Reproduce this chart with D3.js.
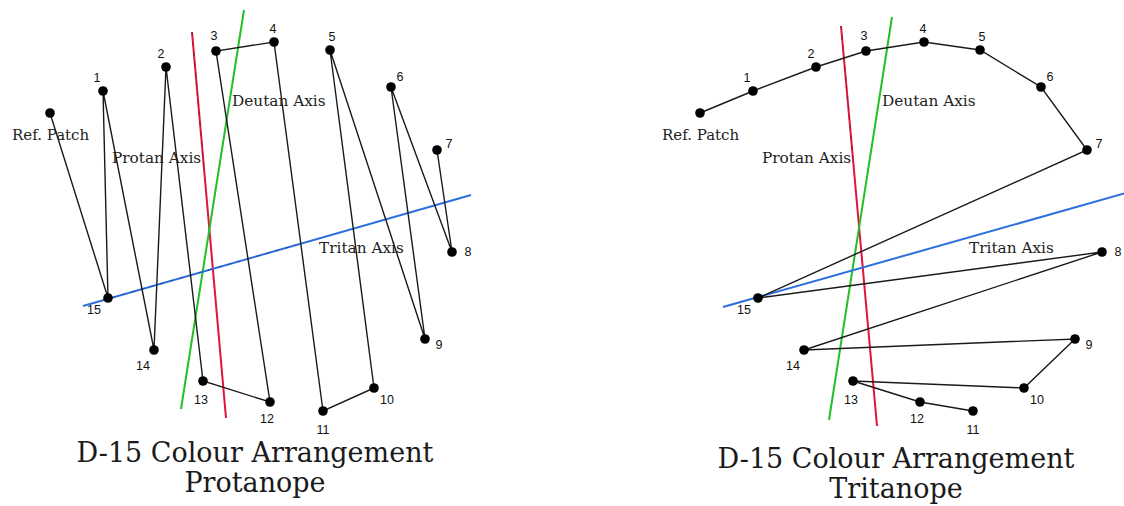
<!DOCTYPE html>
<html>
<head>
<meta charset="utf-8">
<script src="https://cdn.jsdelivr.net/npm/d3@7"></script>
<style>
  html, body { margin: 0; padding: 0; background: #fff; }
  svg { display: block; }
</style>
</head>
<body>
<svg id="chart" width="1124" height="506"></svg>
<script>
// ---------------- DATA ----------------
// Cap identifiers (reference patch + 15 caps)
const capIds = ["Ref", 1, 2, 3, 4, 5, 6, 7, 8, 9, 10, 11, 12, 13, 14, 15];
// Cap positions in the D-15 diagram (diagram units)
const capX = [50, 103, 166, 216, 274, 330, 391, 437, 452, 425, 374, 323, 270, 203, 154, 108];
const capY = [113, 91, 67, 51, 42, 50, 87, 150, 252, 339, 388, 411, 402, 381, 350, 298];

// Arrangement orders chosen by each observer
const protanopeOrder = ["Ref", 15, 1, 14, 2, 13, 12, 3, 4, 11, 10, 5, 9, 6, 8, 7];
const tritanopeOrder = ["Ref", 1, 2, 3, 4, 5, 6, 7, 15, 8, 14, 9, 10, 13, 12, 11];

// Confusion axes (endpoints in diagram units) per panel
const axisNames = ["Protan Axis", "Deutan Axis", "Tritan Axis"];
const protanopeAxes = [[[192, 32], [226, 418]], [[244, 10], [181, 409]], [[83, 306], [471, 195]]];
const tritanopeAxes = [[[191, 26], [227, 426]], [[242, 17], [179, 420]], [[73, 307], [476, 193]]];

const panelTitles = [["D-15 Colour Arrangement", "Protanope"], ["D-15 Colour Arrangement", "Tritanope"]];

// ---------------- LAYOUT / STYLE ----------------
const axisColors = ["#e0143c", "#22c025", "#2d6fdc"];
const axisLabelPos = [[112, 163], [232, 106], [319, 253]];
const refLabelPos = [12, 140];
const numLabelOffsets = {
  1: [-6, -14], 2: [-5, -14], 3: [-2, -16], 4: [-1, -14], 5: [2, -14], 6: [9, -11], 7: [12, -7],
  8: [16, -1], 9: [14, 5], 10: [13, 11], 11: [0, 18], 12: [-3, 16], 13: [-2, 18], 14: [-11, 15], 15: [-14, 11]
};

const svg = d3.select("#chart");

const panels = [
  { order: protanopeOrder, axes: protanopeAxes, title: panelTitles[0], xOff: 0, titleY: [462, 492], titleX: 255, dashTritan: true },
  { order: tritanopeOrder, axes: tritanopeAxes, title: panelTitles[1], xOff: 650, titleY: [468, 498], titleX: 246, dashTritan: false }
];

const caps = capIds.map((id, i) => ({ id, x: capX[i], y: capY[i] }));
const capById = new Map(caps.map(c => [c.id, c]));

function partial(seg, t0, t1) {
  const [a, b] = seg;
  return [[a[0] + (b[0] - a[0]) * t0, a[1] + (b[1] - a[1]) * t0],
          [a[0] + (b[0] - a[0]) * t1, a[1] + (b[1] - a[1]) * t1]];
}

panels.forEach(p => {
  const x = d3.scaleLinear().domain([0, 500]).range([p.xOff, p.xOff + 500]);
  const y = d3.scaleLinear().domain([0, 506]).range([0, 506]);
  const g = svg.append("g");

  // axes lines
  p.axes.forEach((seg, i) => {
    g.append("line")
      .attr("x1", x(seg[0][0])).attr("y1", y(seg[0][1]))
      .attr("x2", x(seg[1][0])).attr("y2", y(seg[1][1]))
      .attr("stroke", axisColors[i]).attr("stroke-width", 2);
  });

  // faint dark dashed overlays
  const overlays = [[partial(p.axes[0], 0, 0.35), "#5a1a28"]];
  if (p.dashTritan) overlays.push([partial(p.axes[2], 0.05, 0.55), "#1a3a70"]);
  overlays.forEach(([s, c]) => {
    g.append("line")
      .attr("x1", x(s[0][0])).attr("y1", y(s[0][1]))
      .attr("x2", x(s[1][0])).attr("y2", y(s[1][1]))
      .attr("stroke", c).attr("stroke-width", 1).attr("stroke-dasharray", "4,6").attr("opacity", 0.55);
  });

  // connecting path
  const line = d3.line().x(d => x(d.x)).y(d => y(d.y));
  g.append("path")
    .datum(p.order.map(id => capById.get(id)))
    .attr("d", line)
    .attr("fill", "none")
    .attr("stroke", "#1a1a1a")
    .attr("stroke-width", 1.4);

  // dots
  g.selectAll("circle.cap").data(caps).join("circle")
    .attr("class", "cap")
    .attr("cx", d => x(d.x)).attr("cy", d => y(d.y))
    .attr("r", 4.8).attr("fill", "#000");

  // number labels
  g.selectAll("text.num").data(caps.filter(c => c.id !== "Ref")).join("text")
    .attr("class", "num")
    .attr("x", d => x(d.x + numLabelOffsets[d.id][0]))
    .attr("y", d => y(d.y + numLabelOffsets[d.id][1]) + 4.5)
    .attr("text-anchor", "middle")
    .attr("font-family", "'Liberation Sans', Arial, sans-serif")
    .attr("font-size", 12.5)
    .attr("fill", "#111")
    .text(d => d.id);

  // Ref patch label
  g.append("text")
    .attr("x", x(refLabelPos[0])).attr("y", y(refLabelPos[1]))
    .attr("font-family", "'DejaVu Serif', serif")
    .attr("font-size", 15)
    .attr("fill", "#222")
    .text("Ref. Patch");

  // axis labels
  axisNames.forEach((name, i) => {
    g.append("text")
      .attr("x", x(axisLabelPos[i][0])).attr("y", y(axisLabelPos[i][1]))
      .attr("font-family", "'DejaVu Serif', serif")
      .attr("font-size", 15.3)
      .attr("fill", "#222")
      .text(name);
  });

  // titles
  p.title.forEach((tline, i) => {
    g.append("text")
      .attr("x", x(p.titleX)).attr("y", y(p.titleY[i]))
      .attr("text-anchor", "middle")
      .attr("font-family", "'DejaVu Serif', serif")
      .attr("font-size", 27)
      .attr("fill", "#1a1a1a")
      .text(tline);
  });
});
</script>
</body>
</html>
